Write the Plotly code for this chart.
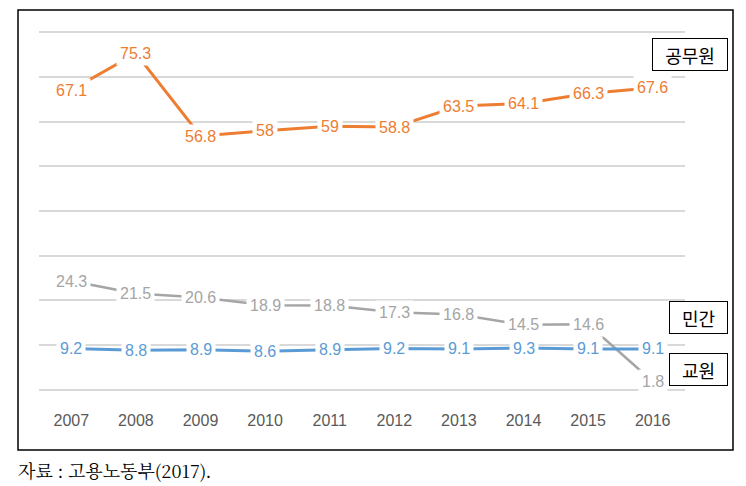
import plotly.graph_objects as go

years = ["2007", "2008", "2009", "2010", "2011", "2012", "2013", "2014", "2015", "2016"]
gongmuwon = [67.1, 75.3, 56.8, 58, 59, 58.8, 63.5, 64.1, 66.3, 67.6]
mingan = [24.3, 21.5, 20.6, 18.9, 18.8, 17.3, 16.8, 14.5, 14.6, 1.8]
gyowon = [9.2, 8.8, 8.9, 8.6, 8.9, 9.2, 9.1, 9.3, 9.1, 9.1]

series = [
    ("공무원", gongmuwon, "#ED7D31", 3),
    ("민간", mingan, "#A5A5A5", 2.5),
    ("교원", gyowon, "#5B9BD5", 3),
]

num_font = "Liberation Sans Narrow, Arial Narrow, Liberation Sans, sans-serif"

fig = go.Figure()
annotations = []
for name, vals, color, w in series:
    fig.add_trace(go.Scatter(x=years, y=vals, mode="lines", name=name,
                             line=dict(color=color, width=w), showlegend=False))
    for i, yv in enumerate(vals):
        annotations.append(dict(x=i, y=yv, xref="x", yref="y", text=f"{yv:g}",
                                showarrow=False, bgcolor="white", borderpad=3,
                                font=dict(family=num_font, size=16, color=color)))

# series name boxes
box_font = dict(family="Noto Sans CJK KR", size=18, color="black")
for txt, yc, wd in [("공무원", 0.9276, 74), ("민간", 0.2077, 57), ("교원", 0.0669, 57)]:
    annotations.append(dict(x=1.0666, y=yc, xref="paper", yref="paper", xanchor="right",
                            yanchor="middle", text=txt, showarrow=False, font=box_font,
                            bordercolor="black", borderwidth=1, borderpad=0,
                            width=wd, height=31, bgcolor="white"))

annotations.append(dict(x=-0.036, y=-0.2077, xref="paper", yref="paper", xanchor="left",
                        yanchor="middle", text="자료 : 고용노동부(2017).", showarrow=False,
                        font=dict(family="Noto Serif CJK KR, Noto Sans CJK KR, serif", size=18, color="black")))

fig.update_layout(
    width=738, height=478,
    margin=dict(l=31, r=61, t=20, b=92),
    plot_bgcolor="white", paper_bgcolor="white",
    annotations=annotations,
    shapes=[dict(type="rect", xref="paper", yref="paper", x0=-0.0325, x1=1.0743,
                 y0=-0.153, y1=1.0492, line=dict(color="black", width=1.5), layer="below")],
    xaxis=dict(type="category", range=[-0.5, 9.5], showgrid=False, showline=False,
               zeroline=False, ticks="",
               tickfont=dict(family=num_font, size=16, color="#595959"),
               ticklabelstandoff=15),
    yaxis=dict(range=[-1, 81], tick0=0, dtick=10, showgrid=True, gridcolor="#D9D9D9",
               gridwidth=1.5, zeroline=False, showticklabels=False, showline=False),
)

fig.write_html("out.html")
